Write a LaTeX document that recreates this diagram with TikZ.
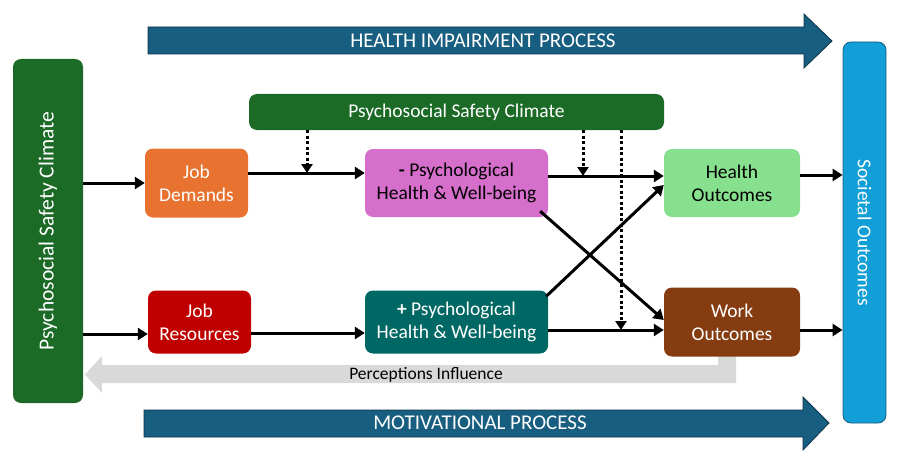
\documentclass[tikz,border=0pt]{standalone}
\usepackage{fontspec}
\setmainfont{Carlito}
\usetikzlibrary{arrows.meta}

\definecolor{pscgreen}{RGB}{27,106,38}
\definecolor{procblue}{RGB}{24,94,128}
\definecolor{procedge}{RGB}{14,50,70}
\definecolor{jdorange}{RGB}{232,114,48}
\definecolor{negpink}{RGB}{214,110,204}
\definecolor{hogreen}{RGB}{134,224,142}
\definecolor{jrred}{RGB}{192,0,0}
\definecolor{posteal}{RGB}{0,104,100}
\definecolor{wobrown}{RGB}{132,60,16}
\definecolor{socblue}{RGB}{18,158,214}
\definecolor{percgray}{RGB}{217,217,217}

\tikzset{
    box/.style={rectangle, rounded corners=8pt, align=center, inner sep=2pt,
        font=\fontsize{19.5}{23}\selectfont},
    arr/.style={line width=3pt, -{Triangle[length=10pt,width=12pt]}},
    modarr/.style={line width=3pt, dash pattern=on 3pt off 2.5pt,
        -{Triangle[length=9pt,width=11pt]}},
    proc/.style={fill=procblue, draw=procedge, line width=0.8pt}
}

\begin{document}
\begin{tikzpicture}[x=1pt,y=-1pt]
    \useasboundingbox (0,0) rectangle (903,460);

    \draw[proc]
        (148,27) -- (804,27) -- (804,14) -- (832,41)
        -- (804,68) -- (804,54) -- (148,54) -- cycle;
    \node[text=white, font=\fontsize{21}{24}\selectfont] (hip) at (483,41) {HEALTH IMPAIRMENT PROCESS};

    \draw[proc]
        (144,410) -- (803,410) -- (803,397) -- (829,423)
        -- (803,450) -- (803,437) -- (144,437) -- cycle;
    \node[text=white, font=\fontsize{21}{24}\selectfont] (mp) at (480,423) {MOTIVATIONAL PROCESS};

    \fill[percgray]
        (718,350) -- (736,350) -- (736,383) -- (102,383) -- (102,393)
        -- (85,374.5) -- (102,356) -- (102,365) -- (718,365) -- cycle;
    \node[font=\fontsize{17.5}{20}\selectfont] (perc) at (426,375) {Perceptions Influence};

    \node[box, fill=pscgreen, text=white, rotate=90, minimum width=344pt, minimum height=70pt,
        font=\fontsize{21.5}{25}\selectfont] (pscleft) at (48,231) {Psychosocial Safety Climate};
    \node[box, fill=socblue, draw=procblue, line width=0.8pt, text=white, rotate=-90,
        minimum width=381pt, minimum height=43pt] (soc) at (864.5,232.5) {Societal Outcomes};
    \node[box, fill=pscgreen, text=white, minimum width=415pt, minimum height=36pt] (psctop) at (456.5,112) {Psychosocial Safety Climate};

    \node[box, fill=jdorange, text=white, minimum width=103pt, minimum height=69pt] (jd) at (196.5,183) {Job\\Demands};
    \node[box, fill=negpink, minimum width=183pt, minimum height=68pt] (mpsy) at (456.5,183) {\textbf{-} Psychological\\Health \& Well-being};
    \node[box, fill=hogreen, minimum width=136pt, minimum height=68pt] (health) at (732,183) {Health\\Outcomes};

    \node[box, fill=jrred, text=white, minimum width=103pt, minimum height=63pt] (jr) at (199.5,322) {Job\\Resources};
    \node[box, fill=posteal, text=white, minimum width=183pt, minimum height=63pt] (ppsy) at (456.5,322) {\textbf{+} Psychological\\Health \& Well-being};
    \node[box, fill=wobrown, text=white, minimum width=136pt, minimum height=69pt] (work) at (732,322) {Work\\Outcomes};

    \coordinate (jdin) at (jd.west);
    \coordinate (jrin) at ([yshift=-12pt]jr.west);
    \draw[arr] (pscleft.south |- jdin) -- (jdin);
    \draw[arr] (pscleft.south |- jrin) -- (jrin);

    \draw[arr] ([yshift=10pt]jd.east) -- ([yshift=10pt]mpsy.west);
    \draw[arr] ([yshift=7pt]mpsy.east) -- ([yshift=7pt]health.west);
    \draw[arr] ([yshift=-11pt]jr.east) -- ([yshift=-11pt]ppsy.west);
    \draw[arr] ([yshift=-8pt]ppsy.east) -- ([yshift=-8pt]work.west);

    \draw[arr] ([xshift=-8pt,yshift=6pt]mpsy.south east) -- ([yshift=2pt]work.west);
    \draw[arr] ([xshift=-2pt,yshift=-6pt]ppsy.north east) -- ([yshift=-2pt]health.west);

    \coordinate (hout) at ([yshift=8pt]health.east);
    \coordinate (wout) at ([yshift=-8pt]work.east);
    \draw[arr] (hout) -- (soc.south |- hout);
    \draw[arr] (wout) -- (soc.south |- wout);

    \coordinate (m1) at (307,173);
    \coordinate (m2) at (583,176);
    \coordinate (m3) at (621,330);
    \draw[modarr] (psctop.south -| m1) -- (m1);
    \draw[modarr] (psctop.south -| m2) -- (m2);
    \draw[modarr] (psctop.south -| m3) -- (m3);
\end{tikzpicture}
\end{document}
